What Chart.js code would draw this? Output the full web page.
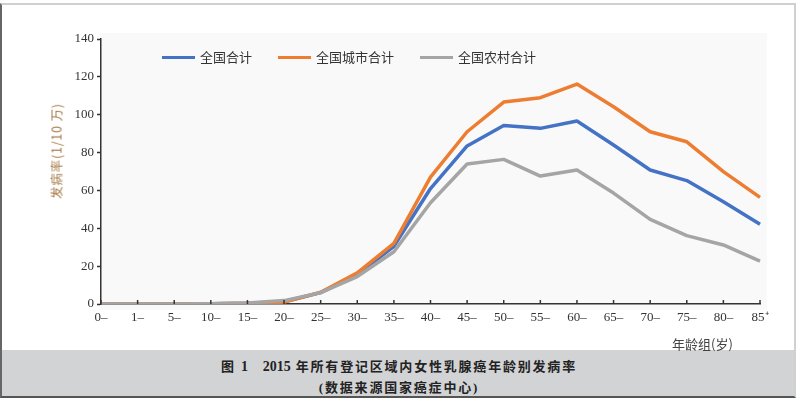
<!DOCTYPE html>
<html>
<head>
<meta charset="utf-8">
<script src="https://cdn.jsdelivr.net/npm/chart.js@4.4.0/dist/chart.umd.min.js"></script>
<style>
body { margin:0; background:#fff; width:798px; height:399px; overflow:hidden; position:relative; font-family:"Liberation Serif","Noto Sans CJK SC",serif; }
#frame { position:absolute; left:0; top:3px; width:796px; height:395px; box-sizing:border-box;
  border-top:2px solid #cfcfcf; border-left:2px solid #666; border-right:2px solid #d0d0d0; border-bottom:2px solid #555; }
#band { position:absolute; left:2px; top:350px; width:792px; height:46px; background:#d2d3d5; }
#cap1, #cap2 { position:absolute; left:0; width:798px; text-align:center; font-weight:bold; font-size:13px; color:#222;
  letter-spacing:1.8px; font-family:"Liberation Serif","Noto Sans CJK SC",serif; line-height:16px; }
#cap1 .num { letter-spacing:0; font-size:14px; }
#cap1 { top:359px; }
#cap2 { top:380px; }
#wrap { position:absolute; left:0; top:0; width:798px; height:350px; }
#legend { position:absolute; left:162px; top:49px; display:flex; gap:26px; font-family:"Noto Sans CJK SC",sans-serif; font-size:13px; color:#333; line-height:16px; }
#legend .it { display:flex; align-items:center; }
#legend .ln { width:33px; height:3px; margin-right:5px; }
#ytitle { position:absolute; left:56px; top:151px; transform:translate(-50%,-50%) rotate(-90deg); white-space:nowrap;
  font-family:"Noto Sans CJK SC",sans-serif; font-size:12.5px; color:#a57845; letter-spacing:0.8px; }
#xtitle { position:absolute; left:672px; top:334px; font-family:"Noto Sans CJK SC",sans-serif; font-size:13px; color:#444; white-space:nowrap; }
</style>
</head>
<body>
<div id="frame"></div>
<div id="band"></div>
<div id="wrap"><canvas id="chart" width="798" height="350"></canvas></div>
<div id="legend"></div>
<div id="ytitle">发病率(1/10 万)</div>
<div id="xtitle">年龄组(岁)</div>
<div id="cap1">图 <span class="num">1</span>　<span class="num">2015</span> 年所有登记区域内女性乳腺癌年龄别发病率</div>
<div id="cap2">(数据来源国家癌症中心)</div>
<script>
var ageGroups = ['0–','1–','5–','10–','15–','20–','25–','30–','35–','40–','45–','50–','55–','60–','65–','70–','75–','80–','85⁺']
var seriesNames = ['全国合计', '全国城市合计', '全国农村合计']
var seriesColors = ['#4472c4', '#ed7d31', '#a5a5a5']

var national = [0, 0, 0, 0.1, 0.4, 1.2, 6, 15.5, 30.5, 61, 83.5, 94.3, 92.8, 96.7, 84, 70.8, 65.2, 54, 42.1]
var urban    = [0, 0, 0, 0.1, 0.4, 1.0, 6.2, 16.5, 32, 67, 91, 106.7, 109, 116.2, 104.2, 91, 85.7, 69.9, 56.3]
var rural    = [0, 0, 0, 0.1, 0.5, 1.8, 6, 14.5, 27.6, 53.5, 74, 76.4, 67.6, 70.8, 58.6, 44.7, 36.1, 31.2, 22.7]

var yTicks = [0, 20, 40, 60, 80, 100, 120, 140]

// legend in html
var legendDiv = document.getElementById('legend')
for (let i = 0; i < seriesNames.length; i++) {
    var it = document.createElement('div')
    it.className = 'it'
    var ln = document.createElement('div')
    ln.className = 'ln'
    ln.style.backgroundColor = seriesColors[i]
    it.appendChild(ln)
    it.appendChild(document.createTextNode(seriesNames[i]))
    legendDiv.appendChild(it)
}

// fundo cinza claro da área do gráfico + ticks do eixo x para dentro
var plotBg = {
    id: 'plotBg',
    beforeDraw: function(chart) {
        var a = chart.chartArea, ctx = chart.ctx
        ctx.save()
        ctx.fillStyle = '#f9f9f9'
        ctx.fillRect(a.left - 1, a.top - 6, a.right - a.left + 8, a.bottom - a.top + 12)
        ctx.restore()
    },
    afterDraw: function(chart) {
        var x = chart.scales.x, ctx = chart.ctx
        ctx.save()
        ctx.strokeStyle = '#333'
        ctx.lineWidth = 1.5
        for (let i = 0; i < ageGroups.length; i++) {
            var px = x.getPixelForTick(i)
            ctx.beginPath()
            ctx.moveTo(px, x.top)
            ctx.lineTo(px, x.top - 4)
            ctx.stroke()
        }
        ctx.restore()
    }
}

var datasets = [national, urban, rural].map(function(d, i) {
    return {
        label: seriesNames[i],
        data: d,
        borderColor: seriesColors[i],
        backgroundColor: seriesColors[i],
        order: 3 - i
    }
})

new Chart(document.getElementById('chart'), {
    type: 'line',
    data: { labels: ageGroups, datasets: datasets },
    plugins: [plotBg],
    options: {
        responsive: false,
        animation: false,
        layout: { padding: { left: 48, top: 39, right: 38, bottom: 0 } },
        plugins: { legend: { display: false }, tooltip: { enabled: false } },
        elements: {
            point: { radius: 0 },
            line: { tension: 0, borderWidth: 3.5, borderJoinStyle: 'round' }
        },
        scales: {
            x: {
                offset: false,
                grid: { display: false, drawTicks: false },
                border: { color: '#333', width: 1.5 },
                ticks: { padding: 6, color: '#333', autoSkip: false, maxRotation: 0,
                         font: { family: 'Liberation Serif', size: 13 } },
                afterFit: function(s) { s.height = 46 }
            },
            y: {
                min: 0, max: 140,
                afterBuildTicks: function(s) { s.ticks = yTicks.map(function(v) { return { value: v } }) },
                grid: { drawOnChartArea: false, drawTicks: true, tickLength: 4, color: '#333', tickWidth: 1.5 },
                border: { color: '#333', width: 1.5 },
                ticks: { padding: 3, color: '#333', font: { family: 'Liberation Serif', size: 13 } },
                afterFit: function(s) { s.width = 53 }
            }
        }
    }
})
</script>
</body>
</html>
